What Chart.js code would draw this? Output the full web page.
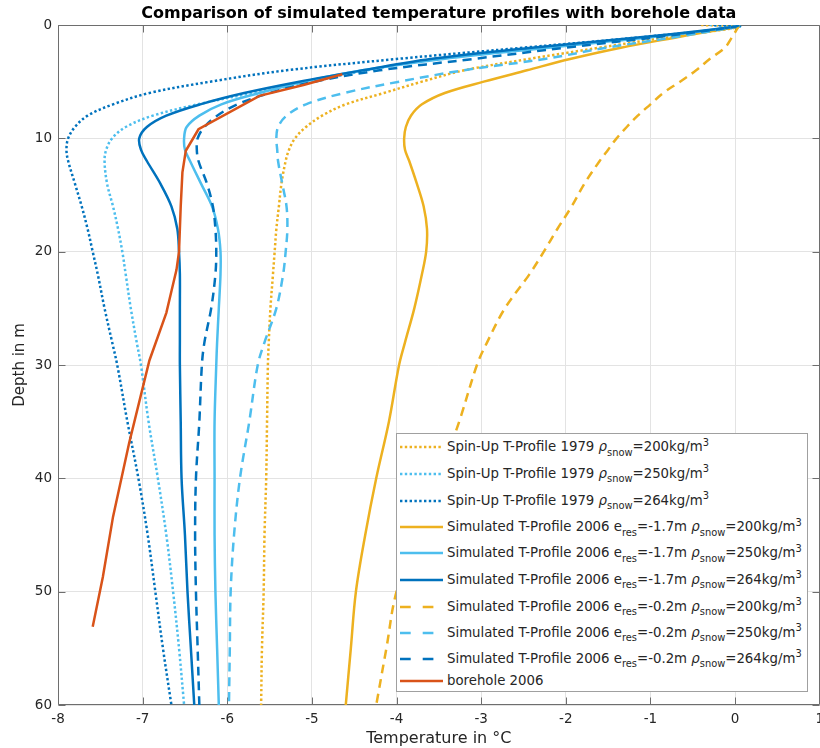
<!DOCTYPE html>
<html>
<head>
<meta charset="utf-8">
<title>Comparison of simulated temperature profiles with borehole data</title>
<script src="https://cdn.jsdelivr.net/npm/chart.js@4.4.1/dist/chart.umd.min.js"></script>
<style>
  html, body { margin:0; padding:0; background:#fff; overflow:hidden; }
  #wrap { position:relative; width:830px; height:748px; }
  #chart { display:block; }
  #legend { position:absolute; left:396px; top:433px; width:412px; height:259px; box-sizing:border-box;
            border:1px solid #a0a0a0; background:#fff; font-family:'DejaVu Sans', sans-serif;
            font-size:13.3px; color:#262626; }
  .lg-row { position:absolute; left:0; right:0; height:16px; line-height:16px; white-space:nowrap; }
  .lg-row svg { position:absolute; left:3px; top:3px; }
  .lg-text { position:absolute; left:50px; top:0; }
  .sub { font-size:9.9px; position:relative; top:4.3px; }
  .sup { font-size:9.9px; position:relative; top:-5.7px; }
  .rho { font-style:italic; }
</style>
</head>
<body>
<div id="wrap">
  <canvas id="chart" width="830" height="748"></canvas>
  <div id="legend"></div>
</div>
<script>
// ---------------- data (depth in m, temperature in °C) ----------------
const depths = [0, 0.15, 1, 2, 3, 4, 5, 6, 7, 8, 9, 10, 11, 12, 14, 16, 18, 20, 22, 25, 28, 30, 35, 40, 45, 50, 55, 60];

// Spin-Up T-Profile 1979
const spinUp200 = [-0.40, 0.05, -0.73, -1.60, -2.44, -3.20, -3.70, -4.15, -4.60, -4.88, -5.07, -5.20, -5.27, -5.31, -5.36, -5.39, -5.42, -5.44, -5.46, -5.49, -5.51, -5.52, -5.53, -5.54, -5.56, -5.57, -5.59, -5.60];
const spinUp250 = [-0.30, 0.05, -0.95, -2.35, -3.55, -4.35, -5.00, -5.70, -6.35, -6.88, -7.20, -7.36, -7.43, -7.45, -7.42, -7.35, -7.29, -7.24, -7.20, -7.14, -7.07, -7.02, -6.93, -6.82, -6.72, -6.64, -6.57, -6.51];
const spinUp264 = [-0.25, 0.05, -1.00, -2.50, -4.00, -5.30, -6.20, -6.92, -7.35, -7.65, -7.80, -7.88, -7.90, -7.88, -7.80, -7.72, -7.65, -7.59, -7.53, -7.45, -7.36, -7.30, -7.18, -7.05, -6.94, -6.85, -6.76, -6.66];

// Simulated T-Profile 2006, e_res = -1.7 m
const simA200 = [0.05, 0.00, -0.62, -1.35, -1.95, -2.46, -2.97, -3.43, -3.70, -3.83, -3.89, -3.91, -3.90, -3.85, -3.76, -3.68, -3.64, -3.65, -3.70, -3.79, -3.90, -3.97, -4.09, -4.24, -4.37, -4.48, -4.54, -4.60];
const simA250 = [0.05, 0.00, -0.90, -2.20, -3.45, -4.40, -5.10, -5.62, -6.07, -6.33, -6.48, -6.51, -6.50, -6.44, -6.31, -6.18, -6.11, -6.08, -6.08, -6.10, -6.12, -6.13, -6.15, -6.15, -6.15, -6.14, -6.12, -6.10];
const simA264 = [0.05, 0.00, -1.00, -2.40, -3.60, -4.40, -5.15, -5.80, -6.32, -6.72, -6.95, -7.04, -7.02, -6.95, -6.79, -6.66, -6.59, -6.57, -6.56, -6.56, -6.56, -6.56, -6.55, -6.54, -6.50, -6.47, -6.43, -6.39];

// Simulated T-Profile 2006, e_res = -0.2 m
const simB200 = [0.05, 0.04, -0.03, -0.12, -0.30, -0.46, -0.65, -0.85, -1.00, -1.15, -1.28, -1.40, -1.50, -1.60, -1.78, -1.93, -2.10, -2.26, -2.43, -2.72, -2.93, -3.05, -3.26, -3.50, -3.75, -4.00, -4.12, -4.24];
const simB250 = [0.05, 0.00, -0.65, -1.52, -2.25, -3.21, -3.97, -4.62, -5.07, -5.30, -5.40, -5.42, -5.41, -5.40, -5.35, -5.30, -5.29, -5.31, -5.34, -5.42, -5.56, -5.64, -5.74, -5.85, -5.92, -5.96, -5.97, -5.98];
const simB264 = [0.05, 0.00, -0.85, -2.00, -3.10, -4.20, -4.97, -5.50, -5.88, -6.12, -6.27, -6.35, -6.36, -6.34, -6.24, -6.17, -6.14, -6.13, -6.14, -6.19, -6.27, -6.30, -6.33, -6.37, -6.38, -6.37, -6.35, -6.33];

// borehole 2006
const boreholeDepth = [4.35, 5.3, 6.25, 9.2, 11.1, 13.0, 16.0, 20.0, 21.6, 23.5, 25.4, 29.6, 36.9, 43.4, 48.7, 53.1];
const boreholeTemp  = [-4.64, -5.10, -5.62, -6.34, -6.49, -6.53, -6.55, -6.57, -6.60, -6.66, -6.72, -6.92, -7.16, -7.35, -7.47, -7.59];

const xTicks = [-8, -7, -6, -5, -4, -3, -2, -1, 0, 1];
const yTicks = [0, 10, 20, 30, 40, 50, 60];

// ---------------- styling ----------------
const ORANGE = '#EDB120', LIGHT = '#4DBEEE', DARK = '#0072BD', RED = '#D95319';
const DOT = [2.4, 2.4], DASH = [9, 6], SOLID = [];

const series = [
  { temps: spinUp200, color: ORANGE, dash: DOT,   kind: 'spin', rho: '200' },
  { temps: spinUp250, color: LIGHT,  dash: DOT,   kind: 'spin', rho: '250' },
  { temps: spinUp264, color: DARK,   dash: DOT,   kind: 'spin', rho: '264' },
  { temps: simA200,   color: ORANGE, dash: SOLID, kind: 'sim', eres: '-1.7', rho: '200' },
  { temps: simA250,   color: LIGHT,  dash: SOLID, kind: 'sim', eres: '-1.7', rho: '250' },
  { temps: simA264,   color: DARK,   dash: SOLID, kind: 'sim', eres: '-1.7', rho: '264' },
  { temps: simB200,   color: ORANGE, dash: DASH,  kind: 'sim', eres: '-0.2', rho: '200' },
  { temps: simB250,   color: LIGHT,  dash: DASH,  kind: 'sim', eres: '-0.2', rho: '250' },
  { temps: simB264,   color: DARK,   dash: DASH,  kind: 'sim', eres: '-0.2', rho: '264' }
];

function plainLabel(s) {
  if (s.kind === 'spin') return 'Spin-Up T-Profile 1979 ρsnow=' + s.rho + 'kg/m3';
  if (s.kind === 'sim') return 'Simulated T-Profile 2006 eres=' + s.eres + 'm ρsnow=' + s.rho + 'kg/m3';
  return s.label;
}
function richLabel(s) {
  const rho = '<span class="rho">ρ</span><span class="sub">snow</span>=' + s.rho + 'kg/m<span class="sup">3</span>';
  if (s.kind === 'spin') return 'Spin-Up T-Profile 1979 ' + rho;
  if (s.kind === 'sim') return 'Simulated T-Profile 2006 e<span class="sub">res</span>=' + s.eres + 'm ' + rho;
  return s.label;
}

const N = series.length + 1;
const datasets = series.map((s, i) => ({
  label: plainLabel(s),
  data: depths.map((d, j) => ({ x: s.temps[j], y: d })),
  borderColor: s.color,
  borderDash: s.dash,
  borderWidth: 2.5,
  borderCapStyle: 'butt',
  pointRadius: 0,
  fill: false,
  tension: 0.35,
  order: N - i
}));
datasets.push({
  label: 'borehole 2006',
  data: boreholeDepth.map((d, j) => ({ x: boreholeTemp[j], y: d })),
  borderColor: RED,
  borderDash: [],
  borderWidth: 2.5,
  pointRadius: 0,
  fill: false,
  tension: 0,
  order: 0
});

// frame + inward ticks (MATLAB-like box)
const framePlugin = {
  id: 'frame',
  beforeDatasetsDraw(chart) {
    const { ctx, chartArea, scales } = chart;
    const L = Math.round(chartArea.left) + 0.5, R = Math.round(chartArea.right) - 0.5;
    const T = Math.round(chartArea.top) + 0.5, B = Math.round(chartArea.bottom) - 0.5;
    ctx.save();
    ctx.strokeStyle = '#6e6e6e';
    ctx.lineWidth = 1;
    ctx.beginPath();
    ctx.moveTo(L, T); ctx.lineTo(R, T); ctx.lineTo(R, B); ctx.lineTo(L, B); ctx.closePath();
    const tl = 7;
    xTicks.forEach(v => {
      const px = Math.round(scales.x.getPixelForValue(v)) + 0.5;
      ctx.moveTo(px, B); ctx.lineTo(px, B - tl);
      ctx.moveTo(px, T); ctx.lineTo(px, T + tl);
    });
    yTicks.forEach(v => {
      const py = Math.round(scales.y.getPixelForValue(v)) + 0.5;
      ctx.moveTo(L, py); ctx.lineTo(L + tl, py);
      ctx.moveTo(R, py); ctx.lineTo(R - tl, py);
    });
    ctx.stroke();
    ctx.restore();
  }
};

const FONT = 'DejaVu Sans';
const TXT = '#262626';

const chart = new Chart(document.getElementById('chart'), {
  type: 'line',
  data: { datasets },
  options: {
    indexAxis: 'y',
    responsive: false,
    animation: false,
    devicePixelRatio: 1,
    layout: { padding: { left: 0, right: 9, top: 0, bottom: 0 } },
    plugins: {
      legend: { display: false },
      tooltip: { enabled: false },
      title: {
        display: true,
        fullSize: false,
        text: 'Comparison of simulated temperature profiles with borehole data',
        color: '#000',
        font: { family: FONT, size: 16, weight: 'bold' },
        padding: { top: 3.8, bottom: 2 }
      }
    },
    scales: {
      x: {
        type: 'linear', position: 'bottom', min: -8, max: 1,
        afterBuildTicks(s) { s.ticks = xTicks.map(v => ({ value: v })); },
        ticks: { color: TXT, font: { family: FONT, size: 13.5 }, padding: 6, maxRotation: 0, autoSkip: false },
        grid: { color: '#e3e3e3', drawTicks: false, lineWidth: 1 },
        border: { display: false },
        title: { display: true, text: 'Temperature in °C', color: TXT, font: { family: FONT, size: 16 }, padding: { top: 0, bottom: 0 } },
        afterFit(s) { s.height = 43; }
      },
      y: {
        type: 'linear', position: 'left', reverse: true, min: 0, max: 60,
        afterBuildTicks(s) { s.ticks = yTicks.map(v => ({ value: v })); },
        ticks: { color: TXT, font: { family: FONT, size: 13.5 }, padding: 6, autoSkip: false },
        grid: { color: '#e3e3e3', drawTicks: false, lineWidth: 1 },
        border: { display: false },
        title: { display: true, text: 'Depth in m', color: TXT, font: { family: FONT, size: 15 }, padding: { top: 11, bottom: 0 } },
        afterFit(s) { s.width = 58; }
      }
    }
  },
  plugins: [framePlugin]
});

// ---------------- legend (HTML, built from the datasets) ----------------
const legendEl = document.getElementById('legend');
const rowCenters = [13.3, 40, 66.7, 93.3, 119.3, 146, 172.7, 198.7, 224.7, 247];
const legendItems = series.concat([{ kind: 'obs', label: 'borehole 2006', color: RED, dash: SOLID }]);
legendItems.forEach((s, i) => {
  const row = document.createElement('div');
  row.className = 'lg-row';
  row.style.top = (rowCenters[i] - 8) + 'px';
  let dashAttr = '';
  if (s.dash === DOT) dashAttr = ' stroke-dasharray="2.4 2.4"';
  else if (s.dash === DASH) dashAttr = ' stroke-dasharray="10.7 12"';
  row.innerHTML =
    '<svg width="44" height="10" viewBox="0 0 44 10"><line x1="0" y1="5" x2="43" y2="5" stroke="' + s.color +
    '" stroke-width="2.5"' + dashAttr + '/></svg>' +
    '<span class="lg-text">' + richLabel(s) + '</span>';
  legendEl.appendChild(row);
});
</script>
</body>
</html>
